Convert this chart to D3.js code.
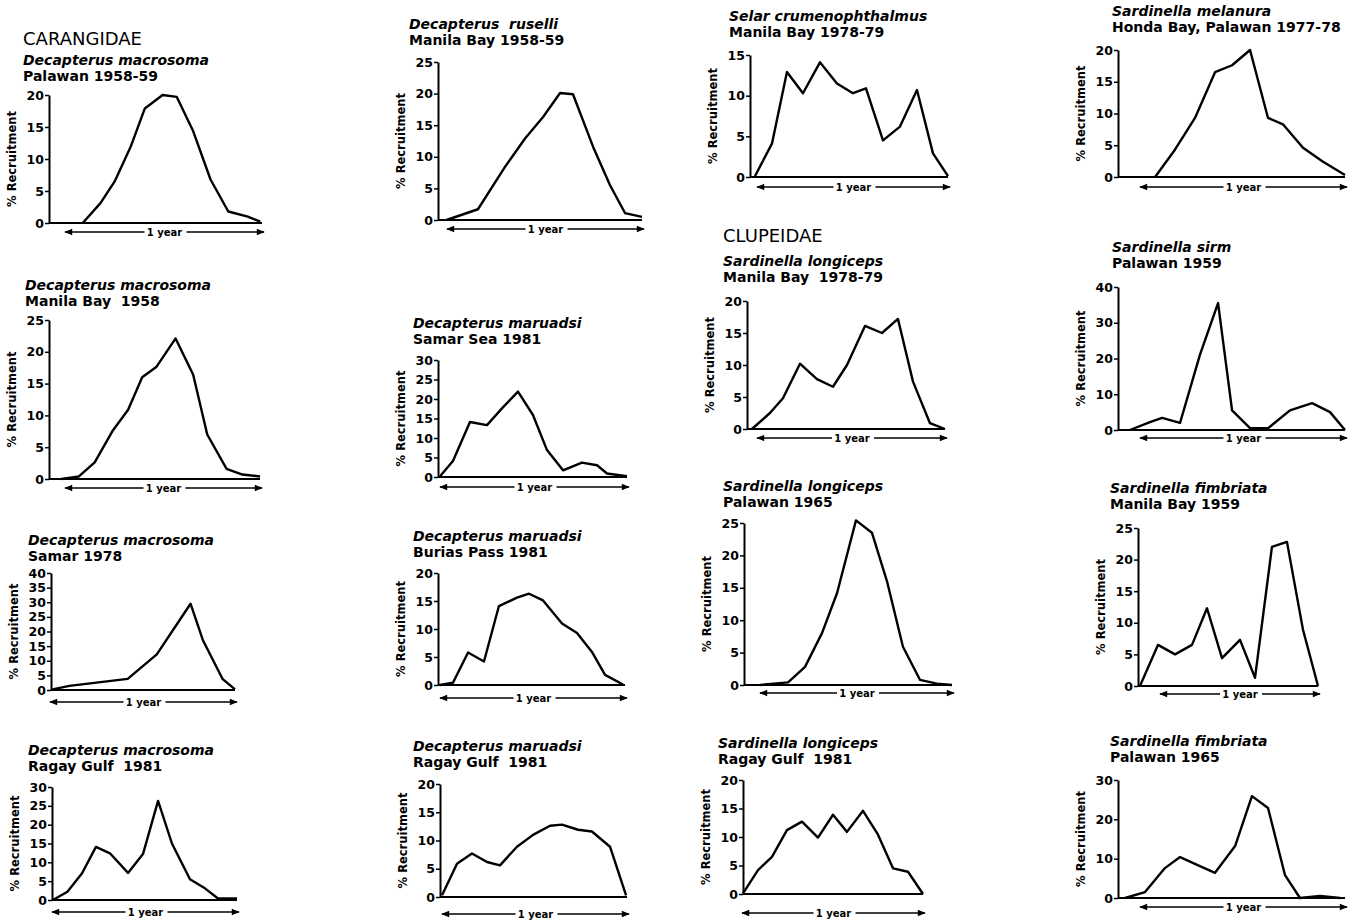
<!DOCTYPE html>
<html lang="en">
<head>
<meta charset="UTF-8">
<title>Recruitment patterns</title>
<script src="https://d3js.org/d3.v7.min.js"></script>
<style>
  body { margin: 0; background: #fff; }
  text { font-family: "DejaVu Sans", sans-serif; fill: #000; }
</style>
</head>
<body>
<script>
// panel texts, col by col, top to bottom
var species = [
  "Decapterus macrosoma", "Decapterus macrosoma", "Decapterus macrosoma", "Decapterus macrosoma",
  "Decapterus  ruselli", "Decapterus maruadsi", "Decapterus maruadsi", "Decapterus maruadsi",
  "Selar crumenophthalmus", "Sardinella longiceps", "Sardinella longiceps", "Sardinella longiceps",
  "Sardinella melanura", "Sardinella sirm", "Sardinella fimbriata", "Sardinella fimbriata"
];
var places = [
  "Palawan 1958-59", "Manila Bay  1958", "Samar 1978", "Ragay Gulf  1981",
  "Manila Bay 1958-59", "Samar Sea 1981", "Burias Pass 1981", "Ragay Gulf  1981",
  "Manila Bay 1978-79", "Manila Bay  1978-79", "Palawan 1965", "Ragay Gulf  1981",
  "Honda Bay, Palawan 1977-78", "Palawan 1959", "Manila Bay 1959", "Palawan 1965"
];
var families = ["CARANGIDAE", "CLUPEIDAE"];
var yMax = [20, 25, 40, 30, 25, 30, 20, 20, 15, 20, 25, 20, 20, 40, 25, 30];
var yStep = [5, 5, 5, 5, 5, 5, 5, 5, 5, 5, 5, 5, 5, 10, 5, 10];

// x = position within the year (0-12), y = % recruitment
var monthPos = [
  [1.9, 2.9, 3.7, 4.6, 5.4, 6.4, 7.2, 8.1, 9.1, 10.1, 11.2, 11.9],
  [0.7, 1.7, 2.6, 3.6, 4.5, 5.3, 6.1, 7.2, 8.2, 9.0, 10.1, 11.0, 12],
  [0.1, 1.2, 5.0, 6.9, 9.1, 9.9, 11.2, 12],
  [0.06, 1.0, 1.95, 2.85, 3.76, 4.93, 5.9, 6.88, 7.78, 8.95, 9.92, 10.77, 12],
  [0.5, 2.35, 3.94, 5.12, 6.18, 7.18, 7.94, 9.12, 10.12, 11.0, 12],
  [0.13, 0.95, 2.03, 3.11, 4.06, 5.08, 6.03, 6.92, 7.94, 9.14, 10.1, 10.73, 12],
  [0.13, 0.96, 1.93, 2.95, 3.91, 5.07, 5.84, 6.74, 7.96, 8.92, 9.88, 10.72, 11.87],
  [0.13, 1.09, 2.05, 3.02, 3.85, 4.94, 5.97, 7.06, 7.83, 8.86, 9.75, 10.91, 11.94],
  [0.3, 1.33, 2.24, 3.21, 4.24, 5.27, 6.24, 7.03, 8.06, 9.09, 10.12, 11.09, 12],
  [0.3, 1.39, 2.18, 3.21, 4.24, 5.21, 6.06, 7.15, 8.18, 9.15, 10.06, 11.09, 12],
  [0.92, 2.54, 3.52, 4.5, 5.37, 6.46, 7.38, 8.25, 9.17, 10.15, 11.13, 12],
  [0, 1, 1.93, 2.93, 3.93, 5, 6, 6.93, 8, 9, 10, 11, 12],
  [1.96, 3.01, 4.07, 5.13, 6.03, 6.98, 7.93, 8.72, 9.78, 10.84, 12],
  [0.63, 1.69, 2.33, 3.28, 4.33, 5.29, 6.03, 6.98, 7.93, 9.09, 10.26, 11.21, 12],
  [0.13, 1.33, 2.47, 3.6, 4.6, 5.6, 6.8, 7.8, 8.93, 9.93, 11, 12],
  [0.37, 1.43, 2.48, 3.28, 4.33, 5.13, 6.19, 7.08, 7.93, 8.83, 9.62, 10.68, 11.74]
];
var recruitment = [
  [0, 3.1, 6.5, 11.9, 17.9, 20, 19.7, 14.5, 6.8, 1.8, 1, 0.2],
  [0, 0.4, 2.6, 7.5, 10.9, 16, 17.6, 22.1, 16.4, 7, 1.6, 0.7, 0.4],
  [0.2, 1.4, 3.8, 12.2, 29.5, 17.1, 3.7, 0.2],
  [0, 2.2, 7.1, 14.1, 12.4, 7.2, 12.2, 26.3, 15, 5.5, 3.1, 0.4, 0.4],
  [0, 1.7, 8.4, 12.9, 16.3, 20.1, 19.9, 11.6, 5.5, 1.1, 0.5],
  [0.2, 4.1, 14.1, 13.3, 17.6, 21.9, 15.9, 6.9, 1.7, 3.7, 3.0, 0.9, 0.2],
  [0, 0.4, 5.8, 4.2, 14.1, 15.6, 16.3, 15.1, 11, 9.3, 5.9, 1.8, 0.1],
  [0.3, 5.9, 7.7, 6.2, 5.6, 8.9, 11, 12.6, 12.8, 11.9, 11.6, 8.9, 0.3],
  [0.1, 4.1, 12.9, 10.3, 14.1, 11.5, 10.3, 10.9, 4.5, 6.2, 10.7, 2.9, 0.1],
  [0, 2.5, 4.8, 10.2, 7.8, 6.6, 10, 16.1, 15, 17.2, 7.4, 0.9, 0],
  [0, 0.4, 2.8, 8, 14.2, 25.4, 23.5, 16, 5.9, 0.8, 0.2, 0],
  [0.1, 4.2, 6.5, 11.2, 12.7, 9.9, 13.9, 10.9, 14.6, 10.4, 4.5, 3.9, 0],
  [0, 4.3, 9.3, 16.5, 17.6, 20, 9.3, 8.3, 4.6, 2.4, 0.3],
  [0, 2.2, 3.4, 2, 21, 35.5, 5.5, 0.5, 0.5, 5.5, 7.5, 5, 0],
  [0, 6.5, 5, 6.5, 12.3, 4.4, 7.3, 1.3, 22, 22.8, 8.9, 0],
  [0, 1.5, 7.6, 10.4, 8.1, 6.4, 13.2, 25.9, 22.9, 5.8, 0, 0.5, 0]
];

// layout: axis x, baseline y, y of top tick, end of baseline, title x, species baseline, arrow y, arrow start
var layout = [
  [49, 223, 95, 262, 23, 65, 232, 65],
  [49, 479, 320, 260, 25, 290, 488, 65],
  [51, 690, 573, 235, 28, 545, 702, 50],
  [52, 900, 787, 237, 28, 755, 912, 52],
  [438, 220, 62, 642, 409, 29, 229, 447],
  [438, 477, 360, 627, 413, 328, 487, 440],
  [438, 685, 573, 625, 413, 541, 698, 440],
  [440, 897, 784, 627, 413, 751, 914, 442],
  [750, 177, 55, 948, 729, 21, 187, 757],
  [747, 429, 301, 945, 723, 266, 438, 757],
  [744, 685, 523, 952, 723, 491, 693, 760],
  [743, 894, 780, 923, 718, 748, 913, 742],
  [1118, 177, 50, 1345, 1112, 16, 187, 1140],
  [1118, 430, 287, 1345, 1112, 252, 438, 1140],
  [1138, 686, 528, 1318, 1110, 493, 694, 1160],
  [1118, 898, 780, 1345, 1110, 746, 907, 1140]
];

var width = 1359, height = 923;
var svg = d3.select("body").append("svg")
  .attr("width", width).attr("height", height)
  .style("background", "#fff");

var defs = svg.append("defs");
defs.append("marker").attr("id", "head")
  .attr("viewBox", "0 0 10 10").attr("refX", 9).attr("refY", 5)
  .attr("markerWidth", 7).attr("markerHeight", 5)
  .attr("orient", "auto-start-reverse")
  .append("path").attr("d", "M0,1 L10,5 L0,9 Z").attr("fill", "#000");

svg.append("text").attr("x", 23).attr("y", 45)
  .attr("font-size", 18).text(families[0]);
svg.append("text").attr("x", 723).attr("y", 242)
  .attr("font-size", 18).text(families[1]);

species.forEach(function (name, i) {
  var L = layout[i];
  var g = svg.append("g");
  var x = d3.scaleLinear().domain([0, 12]).range([L[0], L[3]]);
  var y = d3.scaleLinear().domain([0, yMax[i]]).range([L[1], L[2]]);

  g.append("text").attr("x", L[4]).attr("y", L[5])
    .attr("font-size", 14).attr("font-weight", "bold").attr("font-style", "italic")
    .style("white-space", "pre").text(name);
  g.append("text").attr("x", L[4]).attr("y", L[5] + 16)
    .attr("font-size", 14).attr("font-weight", "bold")
    .style("white-space", "pre").text(places[i]);

  var axis = g.append("g").attr("transform", "translate(" + L[0] + ",0)")
    .call(d3.axisLeft(y).tickValues(d3.range(0, yMax[i] + 0.1, yStep[i]))
      .tickSize(4).tickSizeOuter(0).tickPadding(1));
  axis.select(".domain").attr("stroke-width", 2);
  axis.selectAll(".tick line").attr("stroke-width", 1.5);
  axis.selectAll(".tick text").attr("font-size", 12.5).attr("font-weight", "bold")
    .attr("font-family", "DejaVu Sans Condensed, DejaVu Sans, sans-serif");

  g.append("text")
    .attr("transform", "translate(" + (L[0] - 33) + "," + ((L[1] + L[2]) / 2) + ") rotate(-90)")
    .attr("text-anchor", "middle").attr("font-size", 11.5).attr("font-weight", "bold")
    .text("% Recruitment");

  // baseline
  g.append("line").attr("x1", L[0]).attr("x2", L[3])
    .attr("y1", L[1]).attr("y2", L[1])
    .attr("stroke", "#000").attr("stroke-width", 2);

  // recruitment curve
  var pts = monthPos[i].map(function (m, k) { return [m, recruitment[i][k]]; });
  g.append("path").datum(pts)
    .attr("fill", "none").attr("stroke", "#000").attr("stroke-width", 2.4)
    .attr("stroke-linejoin", "round")
    .attr("d", d3.line().x(function (d) { return x(d[0]); }).y(function (d) { return y(d[1]); }));

  // 1 year arrow
  var ax0 = L[7], ax1 = L[3] + 2, mid = (ax0 + ax1) / 2, ay = L[6];
  g.append("line").attr("x1", mid - 20).attr("x2", ax0).attr("y1", ay).attr("y2", ay)
    .attr("stroke", "#000").attr("stroke-width", 1.6).attr("marker-end", "url(#head)");
  g.append("line").attr("x1", mid + 22).attr("x2", ax1).attr("y1", ay).attr("y2", ay)
    .attr("stroke", "#000").attr("stroke-width", 1.6).attr("marker-end", "url(#head)");
  g.append("text").attr("x", mid).attr("y", ay + 4)
    .attr("text-anchor", "middle").attr("font-size", 10).attr("font-weight", "bold")
    .text("1 year");
});
</script>
</body>
</html>
